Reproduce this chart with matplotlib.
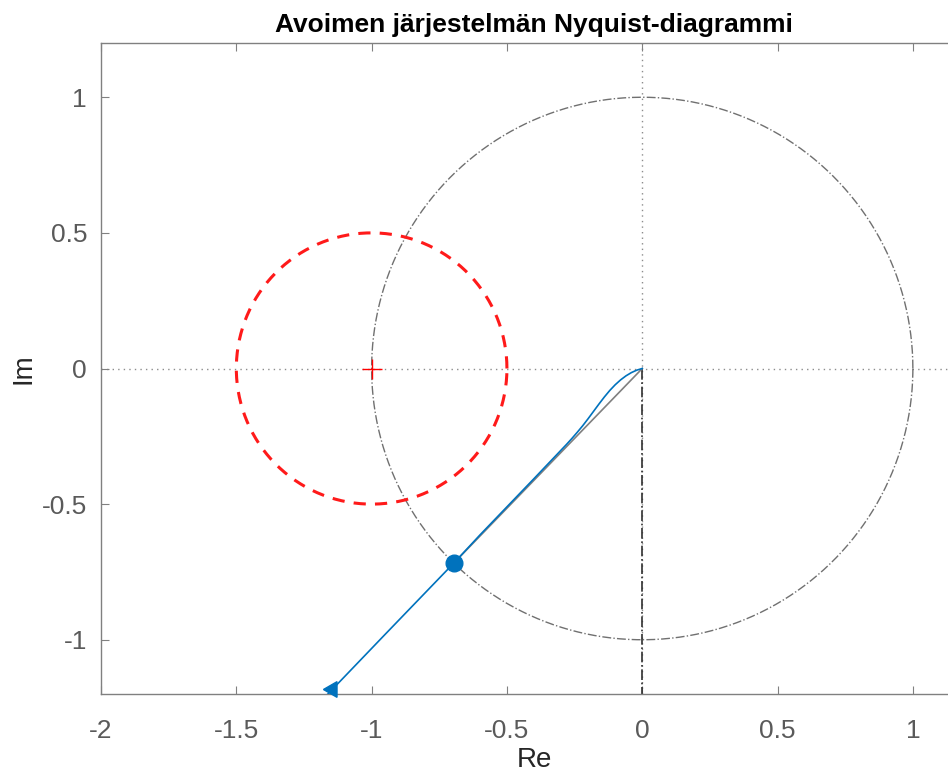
import numpy as np
import matplotlib

matplotlib.use("Agg")
import matplotlib.pyplot as plt

# Nyquist curve of the open loop
nyq_re = [0.0, -0.02, -0.04, -0.06, -0.08, -0.10, -0.12, -0.14, -0.16, -0.18, -0.20,
          -0.22, -0.24, -0.26, -0.28, -0.30, -0.40, -0.50, -0.60, -0.695, -0.95, -1.2]
nyq_im = [0.0, -0.006, -0.015, -0.027, -0.042, -0.060, -0.081, -0.105, -0.131, -0.158, -0.185,
          -0.211, -0.235, -0.258, -0.280, -0.301, -0.406, -0.510, -0.614, -0.716, -0.98, -1.24]

# phase margin crossing on the unit circle
pm_point = (-0.695, -0.716)
# direction arrow on the curve
arrow_point = (-1.148, -1.181)

# critical point and its circle
crit_point = (-1.0, 0.0)
crit_radius = 0.5

xticks = [-2, -1.5, -1, -0.5, 0, 0.5, 1]
yticks = [-1, -0.5, 0, 0.5, 1]

plt.rcParams["font.family"] = ["Liberation Sans", "DejaVu Sans"]
plt.rcParams["axes.unicode_minus"] = False

fig = plt.figure(figsize=(9.48, 7.75), dpi=100)
ax = fig.add_axes([101 / 948, 1 - 694 / 775, 866 / 948, 651 / 775])

t = np.linspace(0, 2 * np.pi, 400)

# grid-like dotted axes
ax.axhline(0, color="#8c8c8c", linestyle=(0, (1, 3)), linewidth=1.0, zorder=1)
ax.axvline(0, color="#8c8c8c", linestyle=(0, (1, 3)), linewidth=1.0, zorder=1)

# unit circle
ax.plot(np.cos(t), np.sin(t), color="#707070", linestyle="-.", linewidth=1.0, zorder=2)

# vertical dash-dot line below origin
ax.plot([0, 0], [0, -1.2], color="#303030", linestyle="-.", linewidth=1.2, zorder=2)

# line from origin to phase margin point
ax.plot([0, pm_point[0]], [0, pm_point[1]], color="#808080", linewidth=1.2, zorder=3)

# critical circle
ax.plot(crit_point[0] + crit_radius * np.cos(t), crit_point[1] + crit_radius * np.sin(t),
        color="#ff1a1a", linestyle=(0, (4, 3)), linewidth=2.2, zorder=3)
ax.plot([crit_point[0]], [crit_point[1]], marker="+", color="red", markersize=14,
        markeredgewidth=1.0, linestyle="none", zorder=4)

# Nyquist curve
ax.plot(nyq_re, nyq_im, color="#0072BD", linewidth=1.2, zorder=5)
ax.plot([pm_point[0]], [pm_point[1]], marker="o", color="#0072BD", markersize=12, zorder=6)
ax.plot([arrow_point[0]], [arrow_point[1]], marker=(3, 0, 90), color="#0072BD",
        markersize=13, linestyle="none", zorder=6, clip_on=False)

ax.set_xlim(-2, 1.2)
ax.set_ylim(-1.2, 1.2)
ax.set_xticks(xticks)
ax.set_yticks(yticks)
ax.set_xticklabels([f"{v:g}" for v in xticks])
ax.set_yticklabels([f"{v:g}" for v in yticks])

for s in ax.spines.values():
    s.set_color("#808080")
    s.set_linewidth(1.0)
ax.tick_params(direction="in", length=6, width=0.8, color="#808080",
               labelcolor="#5a5a5a", labelsize=19, top=True, right=True)
ax.tick_params(axis="x", pad=18)
ax.tick_params(axis="y", pad=10)

ax.set_xlabel("Re", fontsize=20, color="#262626", labelpad=3)
ax.set_ylabel("Im", fontsize=20, color="#262626", labelpad=4)
ax.set_title("Avoimen järjestelmän Nyquist-diagrammi", fontsize=19,
             fontweight="bold", pad=8)

fig.savefig("out.png", dpi=100)
